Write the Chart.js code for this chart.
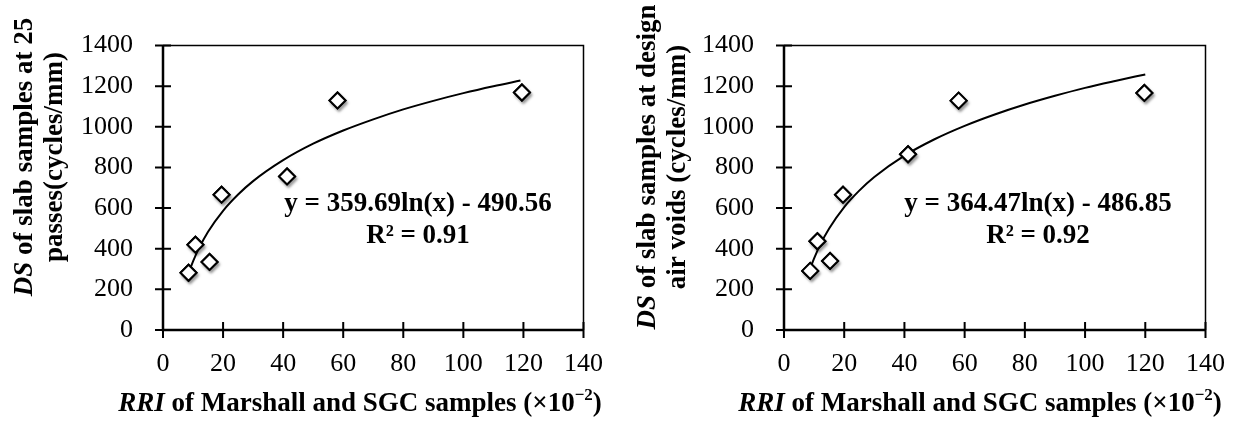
<!DOCTYPE html>
<html>
<head>
<meta charset="utf-8">
<script src="https://cdn.jsdelivr.net/npm/chart.js@4.4.0/dist/chart.umd.min.js"></script>
<style>
  html, body { margin: 0; padding: 0; background: #fff; }
  .wrap { display: flex; width: 1244px; height: 422px; }
  .box { width: 622px; height: 422px; position: relative; }
</style>
</head>
<body>
<div class="wrap">
  <div class="box"><canvas id="leftChart" width="622" height="422"></canvas></div>
  <div class="box"><canvas id="rightChart" width="622" height="422"></canvas></div>
</div>
<script>
// 测点 (RRI, DS)
const rriLeft = [8.5, 10.8, 15.5, 19.5, 41.3, 58.1, 119.5];
const dsLeft = [282, 420, 335, 666, 756, 1130, 1169];
const rriRight = [8.7, 11.1, 15.3, 19.6, 41.2, 58.0, 119.7];
const dsRight = [291, 437, 340, 666, 865, 1129, 1167];

// 趋势线
const fitXLeft = [8.5, 10, 12, 15, 20, 25, 30, 40, 50, 60, 70, 80, 90, 100, 110, 119];
const fitYLeft = [279, 338, 403, 484, 587, 667, 733, 836, 917, 982, 1037, 1086, 1128, 1166, 1200, 1228];
const fitXRight = [8.7, 10, 12, 15, 20, 25, 30, 40, 50, 60, 70, 80, 90, 100, 110, 120];
const fitYRight = [302, 352, 419, 500, 605, 686, 753, 858, 939, 1005, 1061, 1110, 1153, 1192, 1226, 1258];

// 轴与文字
const xMin = 0, xMax = 140, xStep = 20;
const yMin = 0, yMax = 1400, yStep = 200;
const yTitleLeft = ["of slab samples at 25", "passes(cycles/mm)"];
const yTitleRight = ["of slab samples at design", "air voids (cycles/mm)"];
const eqLeft = ["y = 359.69ln(x) - 490.56", "R² = 0.91"];
const eqRight = ["y = 364.47ln(x) - 486.85", "R² = 0.92"];

const SERIF = '"Liberation Serif", "Times New Roman", serif';

// 多字体文字居中绘制
function drawParts(ctx, parts, cx, baseline) {
    let total = 0;
    parts.forEach(p => { ctx.font = p.f; total += ctx.measureText(p.t).width; });
    let x = cx - total / 2;
    ctx.textBaseline = 'alphabetic';
    ctx.textAlign = 'left';
    parts.forEach(p => {
        ctx.font = p.f;
        ctx.fillText(p.t, x, baseline + (p.dy || 0));
        x += ctx.measureText(p.t).width;
    });
}

const decoPlugin = {
    id: 'deco',
    beforeDatasetDraw(chart, args) {
        if (args.index === 0) {
            const ctx = chart.ctx;
            ctx.save();
            ctx.shadowColor = 'rgba(0,0,0,0.35)';
            ctx.shadowBlur = 3;
            ctx.shadowOffsetX = 1.5;
            ctx.shadowOffsetY = 2.5;
        }
    },
    afterDatasetDraw(chart, args) {
        if (args.index === 0) {
            chart.ctx.restore();
            // 再画一次, 不带阴影, 让菱形内部保持白色
            args.meta.data.forEach(el => el.draw(chart.ctx, chart.chartArea));
        }
    },
    afterDraw(chart, args, o) {
        const ctx = chart.ctx;
        const a = chart.chartArea;
        const xs = chart.scales.x, ys = chart.scales.y;
        ctx.save();
        ctx.strokeStyle = '#000';
        // 外框
        ctx.lineWidth = 1.5;
        ctx.beginPath();
        ctx.moveTo(a.left, a.top);
        ctx.lineTo(a.right, a.top);
        ctx.lineTo(a.right, a.bottom);
        ctx.stroke();
        // 坐标轴
        ctx.lineWidth = 2.5;
        ctx.beginPath();
        ctx.moveTo(a.left, a.top);
        ctx.lineTo(a.left, a.bottom);
        ctx.lineTo(a.right, a.bottom);
        ctx.stroke();
        // 刻度 (穿过轴线)
        ctx.lineWidth = 2;
        ctx.beginPath();
        xs.ticks.forEach(t => {
            const px = xs.getPixelForValue(t.value);
            ctx.moveTo(px, a.bottom - 8);
            ctx.lineTo(px, a.bottom + 8);
        });
        ys.ticks.forEach(t => {
            const py = ys.getPixelForValue(t.value);
            ctx.moveTo(a.left - 8, py);
            ctx.lineTo(a.left + 8, py);
        });
        ctx.stroke();

        ctx.fillStyle = '#000';
        const bold = 'bold 27px ' + SERIF;
        const boldIt = 'italic bold 27px ' + SERIF;
        // x 轴标题
        drawParts(ctx, [
            { t: 'RRI', f: boldIt },
            { t: ' of Marshall and SGC samples (×10', f: bold },
            { t: '−2', f: 'bold 17px ' + SERIF, dy: -11 },
            { t: ')', f: bold }
        ], o.xTitleX, 411);
        // y 轴标题 (旋转后局部 y 对应画布 x)
        ctx.save();
        ctx.translate(0, o.yTitleY);
        ctx.rotate(-Math.PI / 2);
        drawParts(ctx, [{ t: 'DS', f: boldIt }, { t: ' ' + o.yTitle[0], f: bold }], 0, o.yBase1);
        drawParts(ctx, [{ t: o.yTitle[1], f: bold }], 0, o.yBase2);
        ctx.restore();
        // 拟合方程
        drawParts(ctx, [{ t: o.eq[0], f: bold }], o.eqX, 211);
        drawParts(ctx, [{ t: o.eq[1], f: bold }], o.eqX, 243);
        ctx.restore();
    }
};

function makeChart(id, px, py, fx, fy, cfg) {
    const ctx = document.getElementById(id).getContext('2d');
    return new Chart(ctx, {
        type: 'scatter',
        data: {
            datasets: [{
                data: px.map((x, i) => ({ x: x, y: py[i] })),
                pointStyle: 'rectRot',
                pointRadius: 8,
                pointHoverRadius: 8,
                borderWidth: 2,
                borderColor: '#000',
                backgroundColor: '#fff',
                showLine: false
            }, {
                data: fx.map((x, i) => ({ x: x, y: fy[i] })),
                showLine: true,
                borderColor: '#000',
                borderWidth: 2,
                pointRadius: 0,
                cubicInterpolationMode: 'monotone',
                fill: false
            }]
        },
        options: {
            responsive: false,
            animation: false,
            events: [],
            layout: { padding: { top: 17, right: cfg.padRight, bottom: 0, left: 0 } },
            plugins: {
                legend: { display: false },
                tooltip: { enabled: false },
                deco: cfg
            },
            scales: {
                x: {
                    type: 'linear',
                    min: xMin, max: xMax,
                    grid: { display: false, drawTicks: false },
                    border: { display: false },
                    ticks: { stepSize: xStep, padding: 19, color: '#000', font: { family: SERIF, size: 26 }, maxRotation: 0,
                             callback: v => String(v) },
                    afterFit(s) { s.height = 92; }
                },
                y: {
                    type: 'linear',
                    min: yMin, max: yMax,
                    grid: { display: false, drawTicks: false },
                    border: { display: false },
                    ticks: { stepSize: yStep, padding: 30, color: '#000', font: { family: SERIF, size: 26 },
                             callback: v => String(v) },
                    afterFit(s) { s.width = cfg.yWidth; }
                }
            }
        },
        plugins: [decoPlugin]
    });
}

makeChart('leftChart', rriLeft, dsLeft, fitXLeft, fitYLeft, {
    padRight: 31, yWidth: 163, xTitleX: 360, yTitleY: 157, yBase1: 32, yBase2: 62,
    yTitle: yTitleLeft, eq: eqLeft, eqX: 418
});
makeChart('rightChart', rriRight, dsRight, fitXRight, fitYRight, {
    padRight: 32, yWidth: 162, xTitleX: 358, yTitleY: 167, yBase1: 33, yBase2: 63,
    yTitle: yTitleRight, eq: eqRight, eqX: 416
});
</script>
</body>
</html>
